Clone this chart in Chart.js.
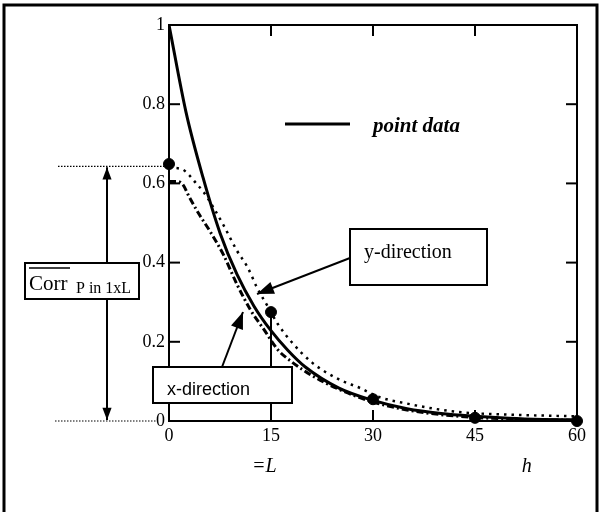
<!DOCTYPE html>
<html>
<head>
<meta charset="utf-8">
<script src="https://cdn.jsdelivr.net/npm/chart.js@4.4.1/dist/chart.umd.min.js"></script>
<style>
  body { margin: 0; background: #fff; }
  #wrap { width: 601px; height: 512px; }
</style>
</head>
<body>
<div id="wrap"><canvas id="myChart" width="601" height="512"></canvas></div>
<script>
// lag distance h and correlation values
var hSolid = [0, 2.5, 5, 7.5, 10, 12.5, 15, 17.5, 20, 25, 30, 35, 40, 45, 50, 55, 60]
var pointData = [1, 0.78, 0.615, 0.475, 0.37, 0.29, 0.228, 0.178, 0.137, 0.083, 0.052, 0.031, 0.019, 0.012, 0.007, 0.004, 0.0025]

var hY = [0, 2, 3, 4, 5, 6.5, 8, 10, 11.5, 13, 14.5, 16, 18, 21, 25, 28, 31, 35, 39, 43, 50, 57, 60]
var yDirection = [0.64, 0.635, 0.62, 0.6, 0.58, 0.54, 0.495, 0.43, 0.39, 0.335, 0.29, 0.245, 0.2, 0.148, 0.105, 0.084, 0.06, 0.044, 0.031, 0.022, 0.016, 0.013, 0.012]

var hX = [0, 1, 2, 3, 4.5, 6, 8, 10, 12, 14, 16, 18, 21, 25, 30, 35, 40, 45, 50, 55, 60]
var xDirection = [0.605, 0.605, 0.598, 0.565, 0.52, 0.48, 0.42, 0.345, 0.28, 0.23, 0.18, 0.15, 0.115, 0.08, 0.048, 0.028, 0.016, 0.009, 0.005, 0.003, 0.002]

var hMarks = [0, 15, 30, 45, 60]
var marks = [0.649, 0.275, 0.055, 0.008, 0]

var xTicks = [0, 15, 30, 45, 60]
var yTicks = [0, 0.2, 0.4, 0.6, 0.8, 1]
var corrLevel = 0.643

function pairs(xs, ys) {
    return xs.map((v, i) => ({x: v, y: ys[i]}))
}

function line(ctx, x1, y1, x2, y2) {
    ctx.beginPath(); ctx.moveTo(x1, y1); ctx.lineTo(x2, y2); ctx.stroke()
}

function arrow(ctx, x1, y1, x2, y2, size) {
    line(ctx, x1, y1, x2, y2)
    var ang = Math.atan2(y2 - y1, x2 - x1)
    ctx.beginPath()
    ctx.moveTo(x2, y2)
    ctx.lineTo(x2 - size * Math.cos(ang - 0.36), y2 - size * Math.sin(ang - 0.36))
    ctx.lineTo(x2 - size * Math.cos(ang + 0.36), y2 - size * Math.sin(ang + 0.36))
    ctx.closePath()
    ctx.fill()
}

function box(ctx, x, y, w, h) {
    ctx.fillStyle = '#fff'
    ctx.fillRect(x, y, w, h)
    ctx.strokeRect(x, y, w, h)
    ctx.fillStyle = '#000'
}

var decor = {
    id: 'decor',
    afterDatasetsDraw(chart) {
        var ctx = chart.ctx, a = chart.chartArea
        var xs = chart.scales.x, ys = chart.scales.y
        ctx.save()
        ctx.strokeStyle = '#000'
        ctx.fillStyle = '#000'

        // outer frame
        ctx.lineWidth = 3
        ctx.beginPath()
        ctx.moveTo(4, 520); ctx.lineTo(4, 5); ctx.lineTo(597, 5); ctx.lineTo(597, 520)
        ctx.stroke()

        // plot box
        ctx.lineWidth = 2
        ctx.strokeRect(a.left, a.top, a.right - a.left, a.bottom - a.top)

        // inward ticks
        xTicks.forEach(v => {
            if (v === xTicks[0] || v === xTicks[xTicks.length - 1]) return
            var px = xs.getPixelForValue(v)
            line(ctx, px, a.top, px, a.top + 11)
            line(ctx, px, a.bottom, px, a.bottom - 11)
        })
        yTicks.forEach(v => {
            if (v === yTicks[0] || v === yTicks[yTicks.length - 1]) return
            var py = ys.getPixelForValue(v)
            line(ctx, a.left, py, a.left + 11, py)
            line(ctx, a.right, py, a.right - 11, py)
        })

        // legend
        var ds = chart.data.datasets[0]
        ctx.lineWidth = 3
        line(ctx, 285, 124, 350, 124)
        ctx.font = 'italic bold 21px "Liberation Serif"'
        ctx.textBaseline = 'alphabetic'
        ctx.fillText(ds.label, 373, 132)

        // level markers on the left
        var yTop = ys.getPixelForValue(corrLevel), yBot = ys.getPixelForValue(0)
        ctx.lineWidth = 1.2
        ctx.setLineDash([1.5, 1.5])
        line(ctx, 58, yTop, a.left, yTop)
        line(ctx, 55, yBot, a.left - 12, yBot)
        ctx.setLineDash([])
        ctx.lineWidth = 2
        arrow(ctx, 107, 263, 107, yTop + 1, 13)
        arrow(ctx, 107, 299, 107, yBot - 1, 13)
        box(ctx, 25, 263, 114, 36)
        ctx.font = '21px "Liberation Serif"'
        ctx.fillText('Corr', 29, 290)
        ctx.lineWidth = 1.5
        line(ctx, 29, 268, 70, 268)
        ctx.font = '16px "Liberation Serif"'
        ctx.fillText('P in 1xL', 76, 293)

        // y-direction label
        ctx.lineWidth = 2
        arrow(ctx, 350, 258, 257, 294, 18)
        box(ctx, 350, 229, 137, 56)
        ctx.font = '20px "Liberation Serif"'
        ctx.fillText('y-direction', 364, 258)

        // x-direction label
        arrow(ctx, 222, 367, 243, 312, 18)
        box(ctx, 153, 367, 139, 36)
        ctx.font = '18px "Liberation Sans"'
        ctx.fillText('x-direction', 167, 395)

        // axis notes
        ctx.font = 'italic 20px "Liberation Serif"'
        ctx.textAlign = 'center'
        ctx.fillText('=L', xs.getPixelForValue(14), 472)
        ctx.fillText('h', xs.getPixelForValue(52.6), 472)
        ctx.restore()
    }
}

var chartField = document.querySelector('#myChart').getContext('2d')

var myChart = new Chart(chartField, {
    type: 'line',
    data: {
        datasets: [{
            label: 'point data',
            data: pairs(hSolid, pointData),
            borderColor: '#000',
            borderWidth: 3,
            pointRadius: 0,
            cubicInterpolationMode: 'monotone'
        }, {
            label: 'y-direction',
            data: pairs(hY, yDirection),
            borderColor: '#000',
            borderWidth: 2.5,
            borderDash: [2.5, 5],
            pointRadius: 0,
            cubicInterpolationMode: 'monotone'
        }, {
            label: 'x-direction',
            data: pairs(hX, xDirection),
            borderColor: '#000',
            borderWidth: 3,
            borderDash: [7, 3, 2, 3],
            pointRadius: 0,
            cubicInterpolationMode: 'monotone'
        }, {
            label: 'stem',
            data: [{x: hMarks[1], y: marks[1]}, {x: hMarks[1], y: 0}],
            borderColor: '#000',
            borderWidth: 2,
            pointRadius: 0
        }, {
            label: 'marks',
            data: pairs(hMarks, marks),
            showLine: false,
            pointRadius: 5.5,
            pointBackgroundColor: '#000',
            pointBorderColor: '#000',
            clip: false
        }]
    },
    options: {
        responsive: false,
        animation: false,
        events: [],
        layout: { padding: { left: 130, right: 24, top: 25, bottom: 0 } },
        plugins: { legend: { display: false }, tooltip: { enabled: false } },
        scales: {
            x: {
                type: 'linear',
                min: 0,
                max: 60,
                afterFit: s => { s.height = 91 },
                afterBuildTicks: s => { s.ticks = xTicks.map(v => ({value: v})) },
                grid: { display: false, drawTicks: false },
                border: { display: false },
                ticks: { color: '#000', padding: 4, font: { family: 'Liberation Serif', size: 18 } }
            },
            y: {
                min: 0,
                max: 1,
                afterFit: s => { s.width = 39 },
                afterBuildTicks: s => { s.ticks = yTicks.map(v => ({value: v})) },
                grid: { display: false, drawTicks: false },
                border: { display: false },
                ticks: {
                    color: '#000',
                    padding: 4,
                    font: { family: 'Liberation Serif', size: 18 },
                    callback: v => String(v)
                }
            }
        }
    },
    plugins: [decor]
})
</script>
</body>
</html>
